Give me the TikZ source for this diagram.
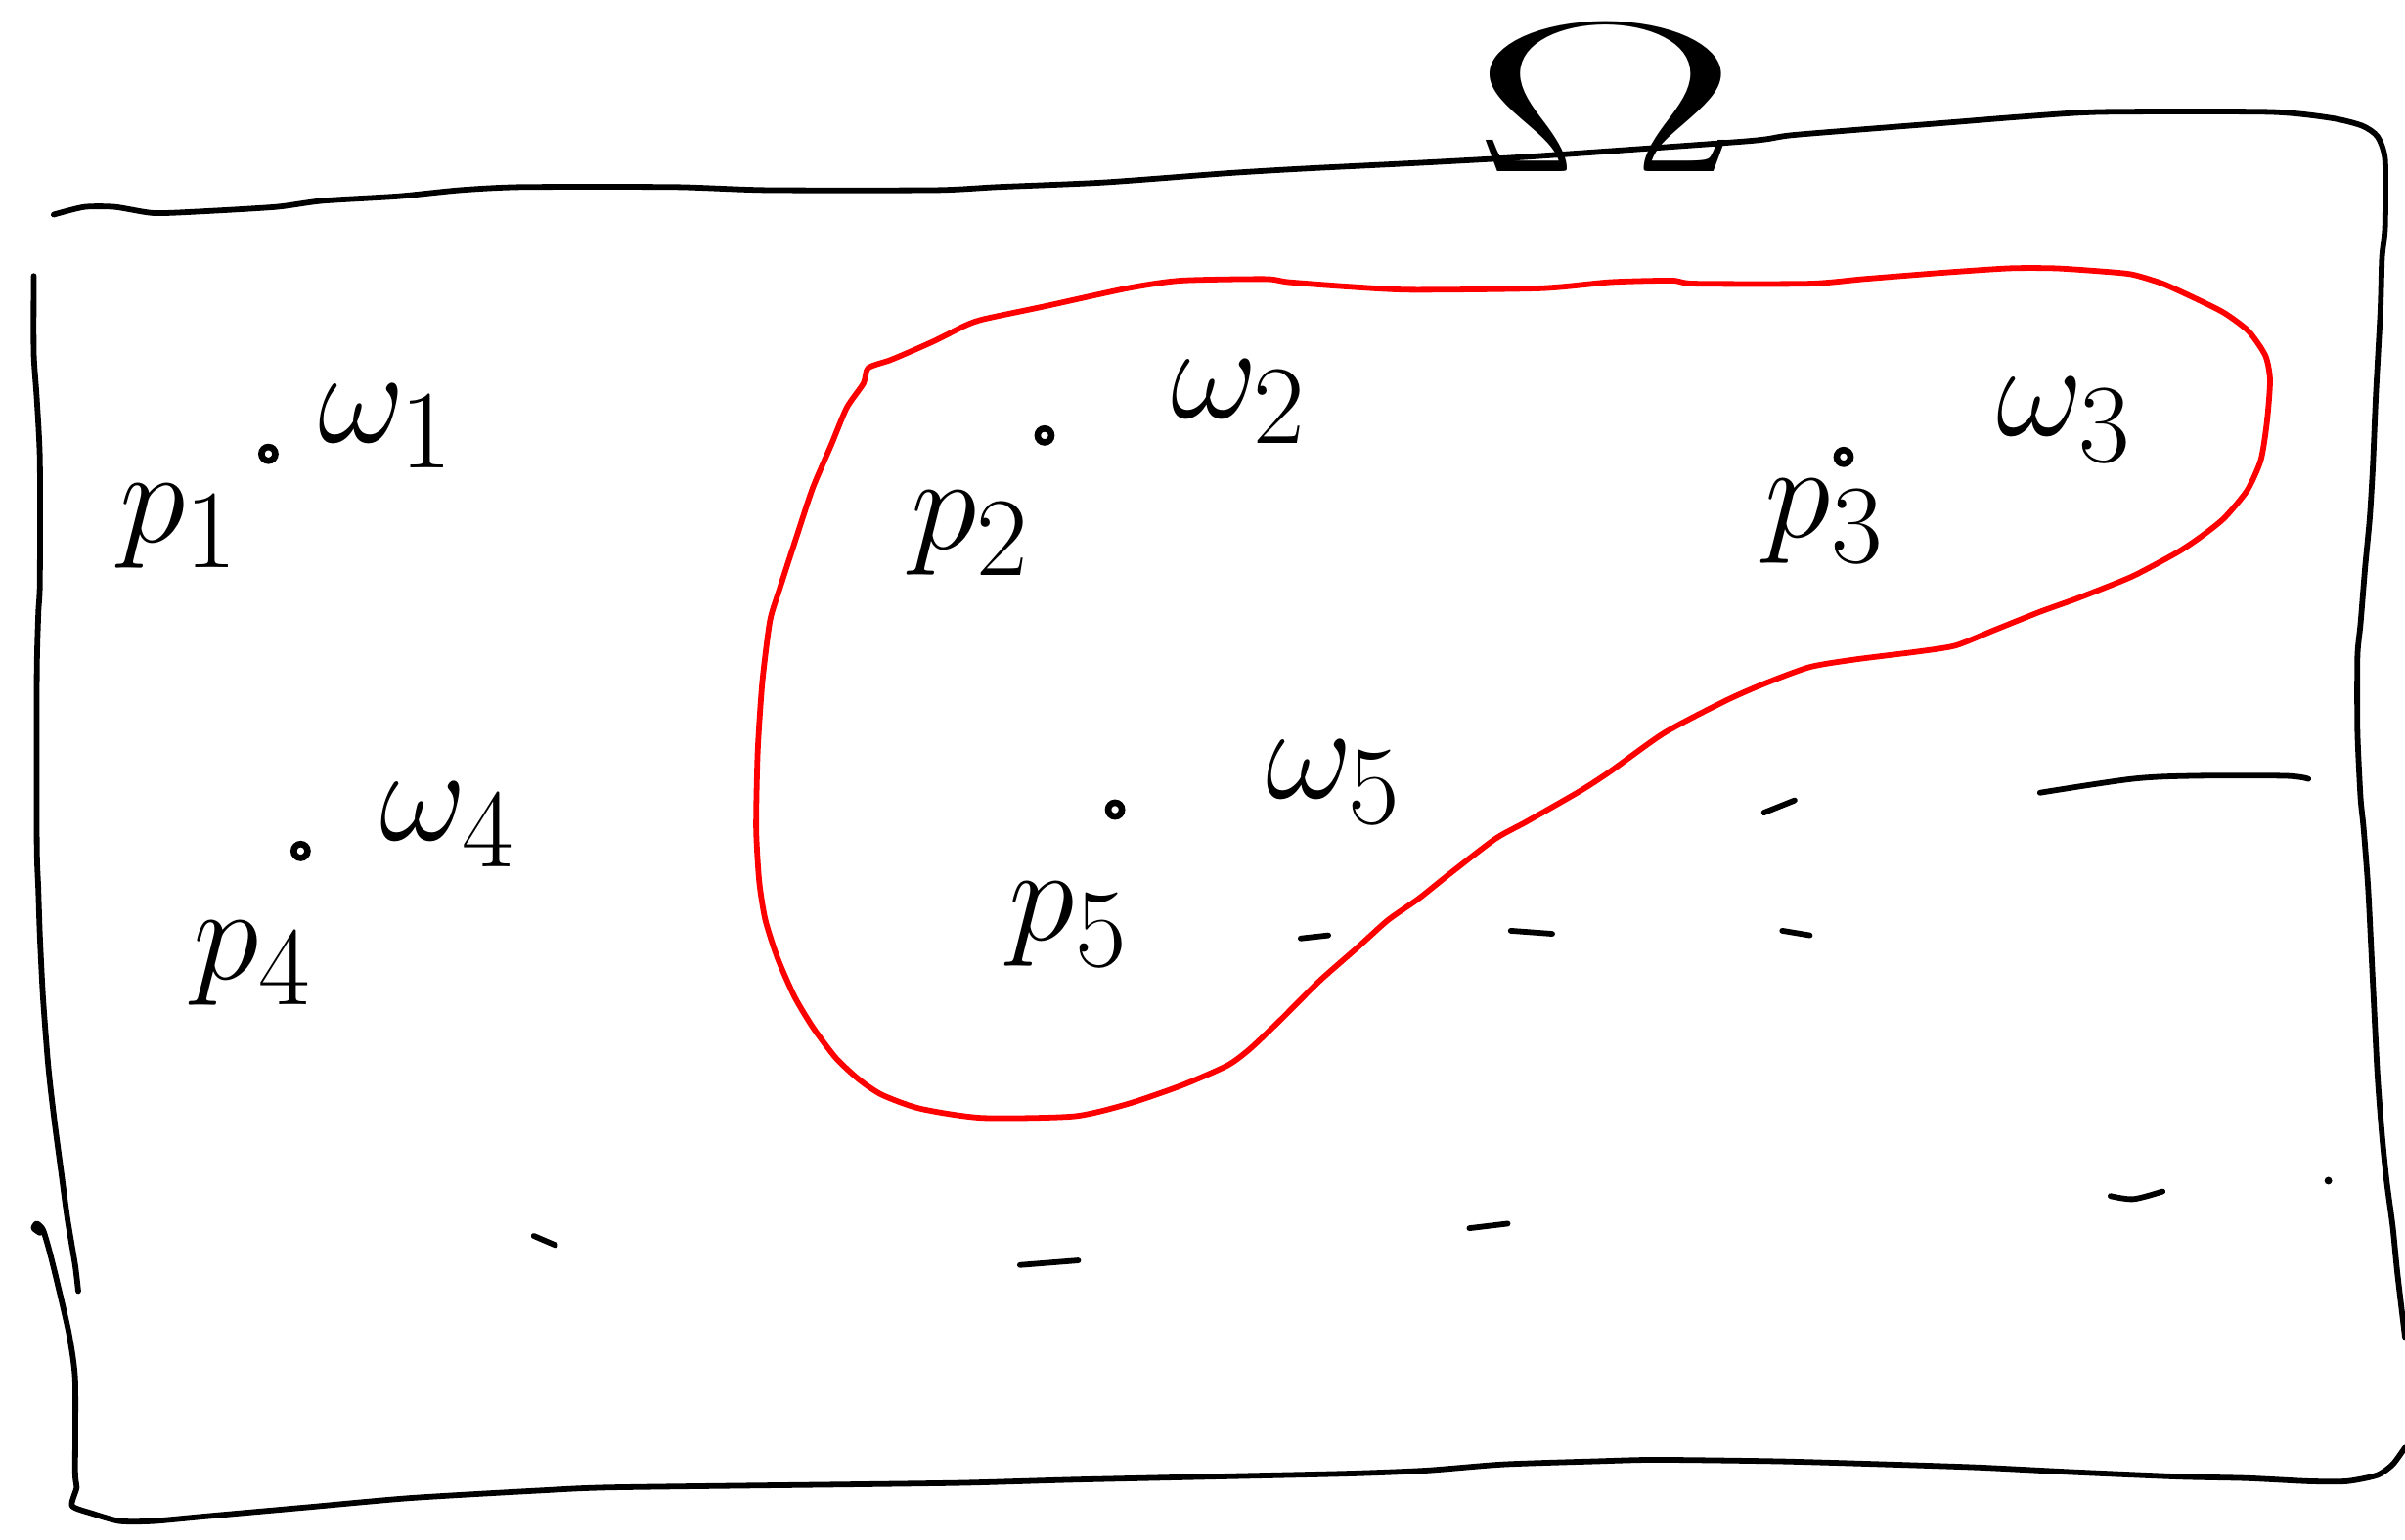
\documentclass[tikz,border=0pt]{standalone}
\usepackage{tikz}
\usetikzlibrary{positioning}
\usepackage{xcolor}
\usepackage{amsmath}
\definecolor{Pen}{HTML}{000000}
\definecolor{Marker}{HTML}{FF0000}
\tikzset{
  pen/.style={draw=Pen,line width=1.05pt,line cap=round,line join=round},
  region/.style={draw=Marker,line width=1.05pt,line cap=round,line join=round},
  ptdot/.style={circle,draw=Pen,line width=1.2pt,inner sep=0pt,minimum size=0.09cm},
  lbl/.style={inner sep=0pt,text=Pen,font=\fontsize{24.88}{28}\selectfont},
}
\newcommand{\SamplePt}[7]{%
  \node[ptdot] (d#1) at (#2,#3) {};%
  \node[lbl] (p#1) at (#4,#5) {$p_{#1}$};%
  \node[lbl] (w#1) at (#6,#7) {$\omega_{#1}$};%
}

\begin{document}
\begin{tikzpicture}[x=0.01cm,y=-0.01cm]
\useasboundingbox (0,0) rectangle (1568,1004);
% the set Omega
\node[inner sep=0pt,xscale=3.0,yscale=1.6,font=\fontsize{24.88}{28}\selectfont] (omega) at (1047,64) {$\Omega$};
\draw[pen] plot[smooth,tension=0.4] coordinates {(35,140) (55,135) (75,135) (100,139) (130,138) (180,135)
  (210,131) (260,128) (300,124) (340,122) (440,122) (500,124) (610,124) (650,122) (720,119)
  (800,113) (850,110) (930,106) (1000,102) (1140,92) (1170,88) (1270,80) (1320,76) (1370,73)
  (1480,73) (1520,77) (1540,82) (1550,89) (1555,104) (1555,148) (1553,168) (1552,202) (1549,258)
  (1547,305) (1545,338) (1542,370) (1539,407) (1537,428) (1537,477) (1539,520) (1541,540)
  (1544,580) (1547,640) (1550,700) (1553,740) (1556,770) (1560,800) (1563,830) (1568,872)};
\draw[pen] plot[smooth,tension=0.4] coordinates {(22,180) (22,230) (24,260) (26,300) (26,380)
  (25,400) (24,440) (24,550) (25,580) (26,610) (28,650) (31,690) (33,710) (36,735) (40,765)
  (44,795) (49,825) (51,842)};
\draw[pen] plot[smooth,tension=0.4] coordinates {(26,804) (22,801) (24,798) (28,802) (32,815)
  (37,835) (45,870) (49,900) (49,960) (50,970) (47,982) (60,987) (78,992) (100,992) (133,989)
  (200,983) (267,977) (353,972) (400,970) (560,968) (630,967) (700,965) (790,963) (880,961)
  (930,959) (980,955) (1040,953) (1080,952) (1160,953) (1230,955) (1290,957) (1350,960)
  (1420,963) (1465,964) (1505,966) (1530,966) (1550,962) (1560,955) (1568,944)};
% the red region
\draw[region] plot[smooth cycle,tension=0.4] coordinates {(566,240) (580,235) (592,230) (610,222)
  (630,212) (642,208) (680,200) (735,188) (770,183) (825,182) (840,184) (880,187) (920,189)
  (1005,188) (1050,184) (1090,183) (1105,185) (1180,185) (1215,182) (1265,178) (1310,175)
  (1340,175) (1370,177) (1390,179) (1410,185) (1430,194) (1450,204) (1466,216) (1477,232)
  (1480,248) (1478,275) (1474,300) (1465,320) (1450,338) (1435,350) (1420,360) (1390,376)
  (1355,390) (1330,399) (1300,411) (1275,421) (1250,425) (1210,430) (1180,435) (1150,446)
  (1125,457) (1085,478) (1050,503) (1030,516) (995,536) (975,547) (945,570) (925,586)
  (905,600) (885,618) (860,640) (835,665) (815,684) (800,695) (770,708) (735,720) (700,728)
  (640,729) (600,723) (575,714) (560,704) (545,690) (530,670) (518,650) (507,625) (499,600)
  (495,575) (493,540) (494,490) (497,445) (502,405) (508,385) (520,348) (530,318) (542,290)
  (552,266) (563,250)};
% stray marks
\draw[pen] (1150,530) -- (1170,522);
\draw[pen] plot[smooth] coordinates {(1330,517) (1390,508) (1430,506) (1490,506) (1505,508)};
\draw[pen] (848,612) -- (866,610);
\draw[pen] (985,607) -- (1012,609);
\draw[pen] (1162,607) -- (1180,610);
\draw[pen] plot[smooth] coordinates {(1376,780) (1391,782) (1410,777)};
\fill[Pen] (1518,770) circle (2.5);
\draw[pen] (958,801) -- (983,798);
\draw[pen] (665,825) -- (703,822);
\draw[pen] (348,806) -- (362,812);
% points and weights
\SamplePt{1}{175}{296}{117}{343}{252}{278}
\SamplePt{2}{681}{284}{633}{348}{808}{262}
\SamplePt{3}{1202}{298}{1190}{340}{1346}{274}
\SamplePt{4}{196}{555}{165}{628}{292}{538}
\SamplePt{5}{727}{528}{697}{603}{870}{510}
\end{tikzpicture}
\end{document}
